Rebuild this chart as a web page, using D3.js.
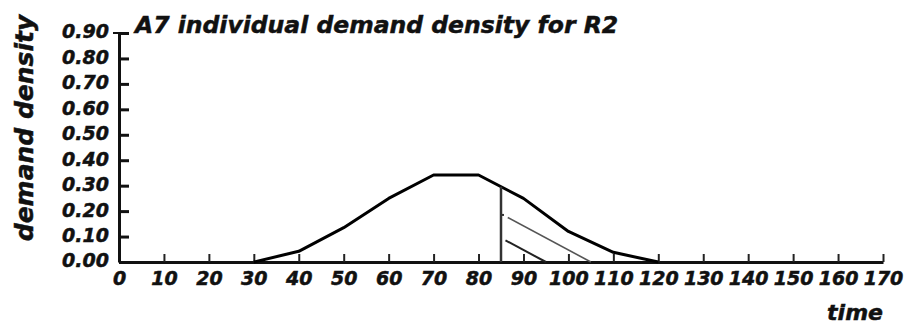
<!DOCTYPE html>
<html>
<head>
<meta charset="utf-8">
<script src="https://cdn.jsdelivr.net/npm/d3@7"></script>
<style>
  body { margin: 0; background: #fff; }
  text { font-family: "DejaVu Sans", sans-serif; font-weight: bold; font-style: italic;
         fill: #111; stroke: #111; stroke-width: 0.5px; }
</style>
</head>
<body>
<div id="chart"></div>
<script>
// demand density curve
const curveTime = [30, 40, 50, 60, 70, 80, 90, 100, 110, 120];
const curveDensity = [0.00, 0.042, 0.135, 0.25, 0.342, 0.342, 0.25, 0.12, 0.038, 0.00];

// vertical cut at t = 85 and the two residual lines after it
const cutTime = 85;
const upperLine = [{ t: 86.5, v: 0.175 }, { t: 105, v: 0 }];
const lowerLine = [{ t: 86, v: 0.085 }, { t: 95, v: 0 }];

const xTicks = d3.range(0, 171, 10);
const yTicks = [0, 0.1, 0.2, 0.3, 0.4, 0.5, 0.6, 0.7, 0.8, 0.9];

const W = 916, H = 328;
const margin = { top: 33, right: 33, bottom: 66, left: 119 };
const width = W - margin.left - margin.right,
      height = H - margin.top - margin.bottom;

const svg = d3.select("#chart").append("svg")
    .attr("width", W)
    .attr("height", H)
  .append("g")
    .attr("transform", "translate(" + margin.left + "," + margin.top + ")");

const x = d3.scaleLinear().domain([0, 170]).range([0, width]);
const y = d3.scaleLinear().domain([0, 0.9]).range([height, 0]);

// axes
const xAxis = svg.append("g")
    .attr("transform", "translate(0," + height + ")")
    .call(d3.axisBottom(x).tickValues(xTicks).tickSize(-8).tickSizeOuter(0).tickPadding(10));
xAxis.select(".domain").attr("stroke", "#111").attr("stroke-width", 3);
xAxis.selectAll(".tick line").attr("stroke", "#222").attr("stroke-width", 2);
xAxis.selectAll(".tick text").style("font-size", "19px");

const yAxis = svg.append("g")
    .call(d3.axisLeft(y).tickValues(yTicks).tickFormat(d3.format(".2f"))
      .tickSize(-10).tickSizeOuter(0).tickPadding(10));
yAxis.select(".domain").attr("stroke", "#111").attr("stroke-width", 3);
yAxis.selectAll(".tick line").attr("stroke", "#111").attr("stroke-width", 3);
yAxis.selectAll(".tick text").style("font-size", "19px").attr("dy", "0.26em");

// small outward stub at the top of the y axis
svg.append("line")
    .attr("x1", -6).attr("x2", 0)
    .attr("y1", y(0.9)).attr("y2", y(0.9))
    .attr("stroke", "#111").attr("stroke-width", 2);

// main curve
const line = d3.line().x(d => x(d.t)).y(d => y(d.v));
const curve = curveTime.map((t, i) => ({ t: t, v: curveDensity[i] }));

svg.append("path")
    .datum(curve)
    .attr("d", line)
    .attr("fill", "none")
    .attr("stroke", "#000")
    .attr("stroke-width", 3)
    .attr("stroke-linejoin", "round");

// vertical cut up to the curve
const cutV = d3.scaleLinear().domain(curveTime).range(curveDensity)(cutTime);
svg.append("line")
    .attr("x1", x(cutTime)).attr("x2", x(cutTime))
    .attr("y1", y(0)).attr("y2", y(cutV))
    .attr("stroke", "#333").attr("stroke-width", 2.5);
svg.append("line")
    .attr("x1", x(cutTime)).attr("x2", x(cutTime) + 3)
    .attr("y1", y(0.185)).attr("y2", y(0.185))
    .attr("stroke", "#333").attr("stroke-width", 2);

svg.append("path")
    .datum(upperLine)
    .attr("d", line)
    .attr("fill", "none")
    .attr("stroke", "#555")
    .attr("stroke-width", 1.6);

svg.append("path")
    .datum(lowerLine)
    .attr("d", line)
    .attr("fill", "none")
    .attr("stroke", "#222")
    .attr("stroke-width", 2);

// labels
svg.append("text")
    .attr("x", 135 - margin.left)
    .attr("y", 0)
    .style("font-size", "23.5px")
    .text("A7 individual demand density for R2");

svg.append("text")
    .attr("transform", "translate(" + (33 - margin.left) + "," + (128 - margin.top) + ") rotate(-90)")
    .style("text-anchor", "middle")
    .style("font-size", "25px")
    .text("demand density");

svg.append("text")
    .attr("x", width)
    .attr("y", 320 - margin.top)
    .style("text-anchor", "end")
    .style("font-size", "22px")
    .text("time");
</script>
</body>
</html>
